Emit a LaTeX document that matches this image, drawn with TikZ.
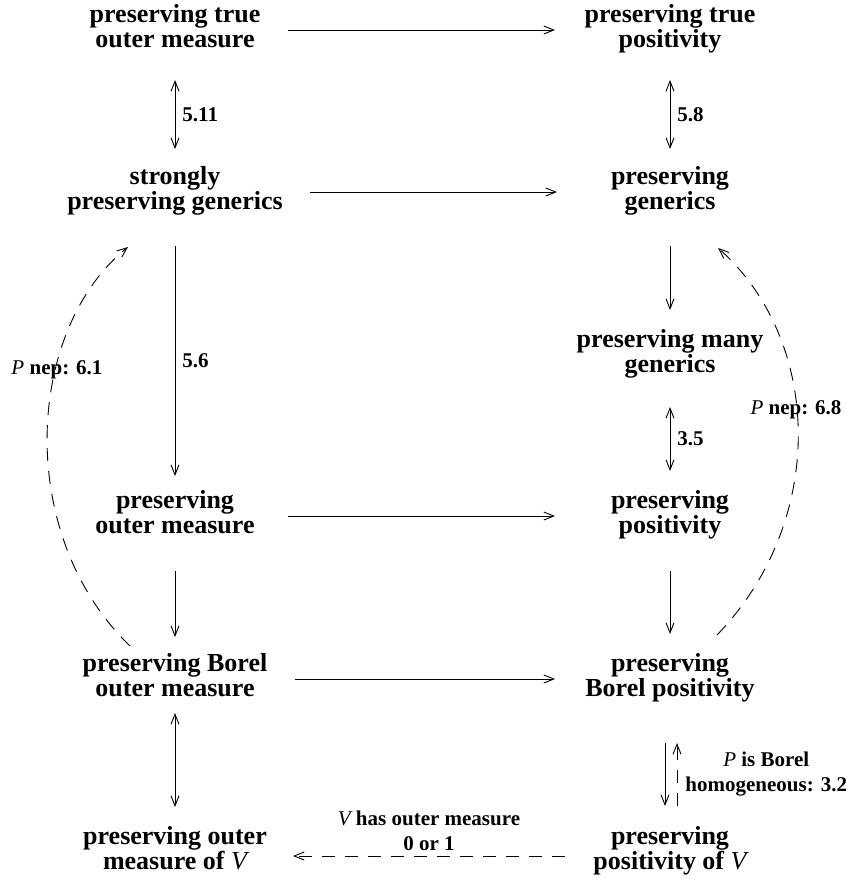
\documentclass[tikz,border=0pt]{standalone}
\usepackage{fontspec}
\setmainfont{Liberation Serif}
\usetikzlibrary{arrows.meta,calc}
\begin{document}
\begin{tikzpicture}[x=1pt,y=-1pt,
  stmt/.style={font=\bfseries\fontsize{26}{25}\selectfont, align=center, inner sep=0pt,
    execute at begin node=\strut, execute at end node=\strut},
  lab/.style={font=\bfseries\fontsize{21}{25}\selectfont, align=center, inner sep=0pt},
  tip/.tip={Straight Barb[length=10pt,width=8pt]},
  arr/.style={line width=0.9pt, -tip},
  barr/.style={line width=0.9pt, tip-tip},
  darr/.style={arr, dash pattern=on 13pt off 10pt}]
\useasboundingbox (0,0) rectangle (849,884);
\newcommand{\iv}[1]{{\mdseries\itshape #1}}

\node[stmt] (A) at (175,30) {preserving true\\outer measure};
\node[stmt] (B) at (670,30) {preserving true\\positivity};
\node[stmt] (C) at (175,192) {strongly\\preserving generics};
\node[stmt] (D) at (670,192) {preserving\\generics};
\node[stmt] (E) at (670,355) {preserving many\\generics};
\node[stmt] (F) at (175,516) {preserving\\outer measure};
\node[stmt] (G) at (670,516) {preserving\\positivity};
\node[stmt] (H) at (175,679) {preserving Borel\\outer measure};
\node[stmt] (I) at (670,679) {preserving\\Borel positivity};
\node[stmt] (J) at (175,852) {preserving outer\\measure of \iv{V}};
\node[stmt] (K) at (670,852) {preserving\\positivity of \iv{V}};

% horizontal
\draw[arr] ($(A)+(113,0)$) -- ($(B)+(-115,0)$);
\draw[arr] ($(C)+(135,0)$) -- ($(D)+(-113,0)$);
\draw[arr] ($(F)+(113,0)$) -- ($(G)+(-115,0)$);
\draw[arr] ($(H)+(120,0)$) -- ($(I)+(-115,0)$);
\draw[darr] ($(K)+(-105,4)$) -- ($(J)+(118,4)$)
  node[lab, midway, above=5pt] {\iv{V} has outer measure\\0 or 1};

% vertical
\draw[barr] ($(A)+(0,50)$) -- ($(C)+(0,-43)$) node[lab, midway, right=7pt] {5.11};
\draw[barr] ($(B)+(0,50)$) -- ($(D)+(0,-43)$) node[lab, midway, right=7pt] {5.8};
\draw[arr] ($(C)+(0,54)$) -- ($(F)+(0,-40)$) node[lab, midway, right=7pt] {5.6};
\draw[arr] ($(D)+(0,54)$) -- ($(E)+(0,-45)$);
\draw[barr] ($(E)+(0,52)$) -- ($(G)+(0,-45)$) node[lab, midway, right=7pt] {3.5};
\draw[arr] ($(F)+(0,55)$) -- ($(H)+(0,-42)$);
\draw[arr] ($(G)+(0,55)$) -- ($(I)+(0,-45)$);
\draw[barr] ($(H)+(0,34)$) -- ($(J)+(0,-45)$);
\draw[arr] ($(I)+(-5,64)$) -- ($(K)+(-5,-46)$);
\draw[darr] ($(K)+(7,-46)$) -- ($(I)+(7,64)$)
  node[lab, midway, right=8pt] {\iv{P} is Borel\\homogeneous: 3.2};

% curved dashed
\draw[darr] ($(H)+(-45,-33)$) .. controls (15,535) and (25,330) .. ($(C)+(-47,55)$);
\node[lab] (L1) at (57,370) {\iv{P} nep: 6.1};
\draw[darr] ($(I)+(47,-44)$) .. controls (828,520) and (822,340) .. ($(D)+(48,56)$);
\node[lab] (L2) at (796,410) {\iv{P} nep: 6.8};
\end{tikzpicture}
\end{document}
